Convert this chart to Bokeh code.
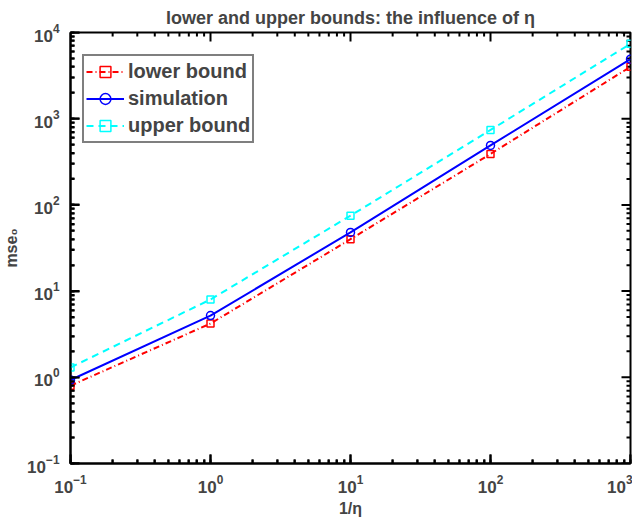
import math
from bokeh.plotting import figure
from bokeh.models import Range1d, Legend, LegendItem
from bokeh.embed import file_html
from bokeh.resources import INLINE

inv_eta = [0.1, 1, 10, 100, 1000]
lower_bound = [0.8, 4.2, 40, 390, 4000]
simulation = [0.93, 5.2, 48, 490, 4900]
upper_bound = [1.3, 8.0, 75, 740, 7400]

x_decades = [-1, 0, 1, 2, 3]
y_decades = [-1, 0, 1, 2, 3, 4]

FONT = "Liberation Sans"
XMIN, XMAX = 10.0 ** x_decades[0], 10.0 ** x_decades[-1]
YMIN, YMAX = 10.0 ** y_decades[0], 10.0 ** y_decades[-1]

p = figure(width=632, height=519, x_axis_type="log", y_axis_type="log",
           x_range=Range1d(XMIN, XMAX), y_range=Range1d(YMIN, YMAX),
           output_backend="svg", toolbar_location=None,
           min_border_left=62, min_border_right=2, min_border_top=25, min_border_bottom=56)

p.title.text = "lower and upper bounds: the influence of η"
p.title.align = "center"
p.title.text_font = FONT
p.title.text_font_size = "18px"
p.title.text_font_style = "bold"

p.xgrid.visible = False
p.ygrid.visible = False
p.outline_line_color = "black"
p.outline_line_width = 2

for ax in list(p.xaxis) + list(p.yaxis):
    ax.major_tick_in = 9
    ax.major_tick_out = 0
    ax.minor_tick_in = 4
    ax.minor_tick_out = 0
    ax.major_tick_line_width = 2
    ax.minor_tick_line_width = 2
    ax.axis_line_color = "black"
    ax.axis_line_width = 2
    ax.major_label_standoff = 11
    ax.major_label_text_font = FONT
    ax.major_label_text_font_size = "17px"
    ax.major_label_text_font_style = "bold"
    ax.axis_label_text_font = FONT
    ax.axis_label_text_font_size = "16px"
    ax.axis_label_text_font_style = "bold"
p.xaxis.axis_label = "1/η"
p.xaxis.axis_label_standoff = 4
p.yaxis.axis_label = "mse₀"
p.yaxis.axis_label_standoff = 4

# inward ticks on all four sides (MATLAB box style), drawn as thin filled rects
xmaj = [10.0 ** k for k in x_decades]
xmin_t = [m * 10.0 ** k for k in x_decades[:-1] for m in range(2, 10)]
ymaj = [10.0 ** k for k in y_decades]
ymin_t = [m * 10.0 ** k for k in y_decades[:-1] for m in range(2, 10)]
for xs, ln in ((xmaj, 18), (xmin_t, 8)):
    for yb in (YMIN, YMAX):
        p.rect(xs, [yb] * len(xs), width=2, height=ln, width_units="screen",
               height_units="screen", fill_color="black", line_color=None)
for ys, ln in ((ymaj, 18), (ymin_t, 8)):
    for xb in (XMIN, XMAX):
        p.rect([xb] * len(ys), ys, width=ln, height=2, width_units="screen",
               height_units="screen", fill_color="black", line_color=None)

r1 = p.line(inv_eta, lower_bound, line_color="red", line_width=2, line_dash="6 3 1 3")
m1 = p.scatter(inv_eta, lower_bound, marker="square", size=7, line_color="red",
               fill_color=None, line_width=1.5)
r2 = p.line(inv_eta, simulation, line_color="blue", line_width=2)
m2 = p.scatter(inv_eta, simulation, marker="circle", size=8, line_color="blue",
               fill_color=None, line_width=1.5)
r3 = p.line(inv_eta, upper_bound, line_color="cyan", line_width=2, line_dash="7 5")
m3 = p.scatter(inv_eta, upper_bound, marker="square", size=7, line_color="cyan",
               fill_color=None, line_width=1.5)

legend = Legend(items=[
    LegendItem(label="lower bound", renderers=[r1, m1]),
    LegendItem(label="simulation", renderers=[r2, m2]),
    LegendItem(label="upper bound", renderers=[r3, m3]),
], location=(12, 320))
legend.label_text_font = FONT
legend.label_text_font_size = "20px"
legend.label_text_font_style = "bold"
legend.border_line_color = "black"
legend.border_line_width = 2
legend.glyph_width = 38
legend.spacing = 0
legend.padding = 2
legend.margin = 0
legend.label_standoff = 4
legend.label_height = 27
legend.glyph_height = 27
p.add_layout(legend)

open("out.html", "w").write(file_html(p, INLINE))
